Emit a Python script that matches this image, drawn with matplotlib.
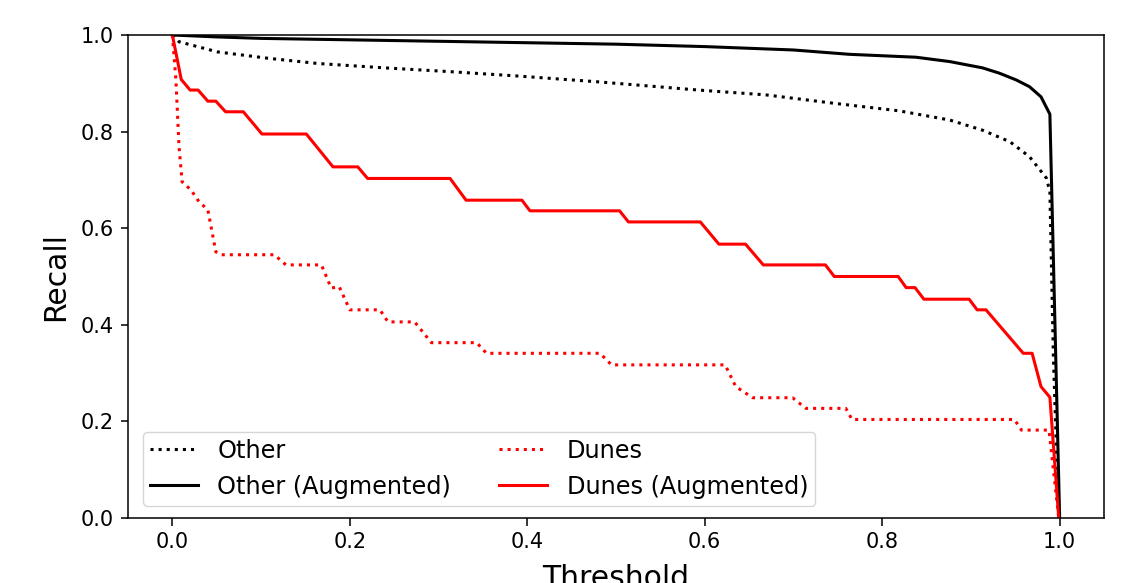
import matplotlib
matplotlib.use("Agg")
import matplotlib.pyplot as plt

# Other (non-augmented), dotted black
other_x = [0.0, 0.0075, 0.051, 0.107, 0.164, 0.239, 0.314, 0.390, 0.480, 0.593, 0.669,
           0.744, 0.819, 0.876, 0.913, 0.944, 0.966, 0.985, 0.989, 0.993, 0.999]
other_y = [1.0, 0.986, 0.965, 0.952, 0.941, 0.932, 0.924, 0.915, 0.903, 0.886, 0.876,
           0.859, 0.843, 0.824, 0.803, 0.779, 0.748, 0.704, 0.676, 0.33, 0.0]

# Other (Augmented), solid black
other_aug_x = [0.0, 0.05, 0.1, 0.2, 0.3, 0.4, 0.5, 0.6, 0.7, 0.763, 0.838, 0.876,
               0.913, 0.932, 0.951, 0.966, 0.979, 0.989, 1.0]
other_aug_y = [1.0, 0.996, 0.993, 0.990, 0.987, 0.984, 0.981, 0.976, 0.969, 0.960, 0.954, 0.945,
               0.932, 0.921, 0.907, 0.893, 0.872, 0.836, 0.0]

# Dunes (non-augmented), dotted red
dunes_x = [0.0, 0.004, 0.0075, 0.011, 0.021, 0.030, 0.040, 0.049, 0.055, 0.115, 0.128,
           0.168, 0.179, 0.188, 0.200, 0.234, 0.243, 0.273, 0.292, 0.343, 0.354, 0.482,
           0.495, 0.623, 0.635, 0.654, 0.699, 0.714, 0.759, 0.766, 0.949, 0.957, 0.988, 0.999]
dunes_y = [1.0, 0.907, 0.769, 0.696, 0.679, 0.655, 0.638, 0.551, 0.545, 0.545, 0.524,
           0.524, 0.476, 0.479, 0.431, 0.431, 0.406, 0.406, 0.363, 0.363, 0.341, 0.341,
           0.317, 0.317, 0.272, 0.249, 0.249, 0.227, 0.227, 0.204, 0.204, 0.182, 0.182, 0.0]

# Dunes (Augmented), solid red
dunes_aug_x = [0.0, 0.010, 0.020, 0.029, 0.040, 0.049, 0.060, 0.080, 0.101, 0.151, 0.181,
               0.209, 0.220, 0.313, 0.331, 0.394, 0.403, 0.504, 0.514, 0.595, 0.616, 0.646,
               0.666, 0.736, 0.746, 0.818, 0.827, 0.837, 0.847, 0.898, 0.907, 0.917, 0.959,
               0.969, 0.979, 0.989, 0.999]
dunes_aug_y = [1.0, 0.908, 0.886, 0.886, 0.863, 0.863, 0.841, 0.841, 0.795, 0.795, 0.727,
               0.727, 0.703, 0.703, 0.658, 0.658, 0.636, 0.636, 0.613, 0.613, 0.567, 0.567,
               0.524, 0.524, 0.500, 0.500, 0.477, 0.477, 0.453, 0.453, 0.431, 0.431, 0.341,
               0.341, 0.272, 0.250, 0.0]

x_ticks = [0.0, 0.2, 0.4, 0.6, 0.8, 1.0]
y_ticks = [0.0, 0.2, 0.4, 0.6, 0.8, 1.0]

W, H = 1144, 583
fig = plt.figure(figsize=(W / 100, H / 100), dpi=100)
ax = fig.add_axes([128 / W, (H - 518) / H, (1104 - 128) / W, (518 - 35) / H])

ax.plot(other_x, other_y, color="black", linestyle=":", linewidth=2.2, label="Other")
ax.plot(other_aug_x, other_aug_y, color="black", linestyle="-", linewidth=2.2, label="Other (Augmented)")
ax.plot(dunes_x, dunes_y, color="red", linestyle=":", linewidth=2.2, label="Dunes")
ax.plot(dunes_aug_x, dunes_aug_y, color="red", linestyle="-", linewidth=2.2, label="Dunes (Augmented)")

ax.set_xlim(-0.05, 1.05)
ax.set_ylim(0.0, 1.0)
ax.set_xticks(x_ticks)
ax.set_yticks(y_ticks)
ax.set_xticklabels([f"{v:.1f}" for v in x_ticks])
ax.set_yticklabels([f"{v:.1f}" for v in y_ticks])
ax.tick_params(labelsize=15, length=5.4, width=1.1, pad=4.9)
for s in ax.spines.values():
    s.set_linewidth(1.1)
ax.set_xlabel("Threshold", fontsize=21.5, labelpad=8.5)
ax.set_ylabel("Recall", fontsize=21.5, labelpad=7.5)
ax.legend(loc="lower left", ncol=2, fontsize=17.3, borderaxespad=0.5,
          borderpad=0.3, bbox_to_anchor=(0.003, 0.0))

fig.savefig("out.png", dpi=100)
